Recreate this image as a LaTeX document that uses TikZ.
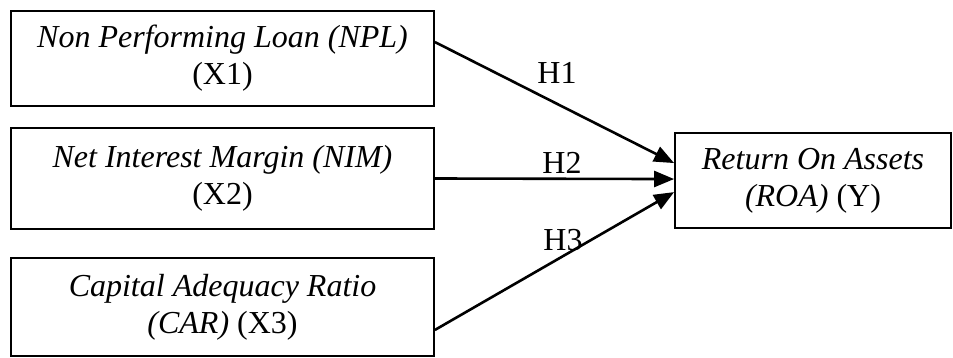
\documentclass[tikz,border=0pt]{standalone}
\usepackage{fontspec}
\setmainfont{Liberation Serif}
\usetikzlibrary{arrows.meta,calc}
\begin{document}
\begin{tikzpicture}[x=1pt,y=-1pt,
  box/.style={draw=black,line width=1.8pt,rectangle,inner sep=0pt,align=center,
    font=\fontsize{32}{37}\selectfont},
  lbl/.style={font=\fontsize{32}{37}\selectfont,inner sep=0pt},
  conn/.style={line width=2.6pt,-{Triangle[length=20pt,width=16pt]}}]
\useasboundingbox (0,0) rectangle (953,358);
\node[box,minimum width=423pt,minimum height=95pt] (b1) at (222.5,58.5)
  {\textit{Non Performing Loan (NPL)}\\(X1)};
\node[box,minimum width=423pt,minimum height=101pt] (b2) at (222.5,178.5)
  {\textit{Net Interest Margin (NIM)}\\(X2)};
\node[box,minimum width=423pt,minimum height=98pt] (b3) at (222.5,307)
  {\textit{Capital Adequacy Ratio}\\\textit{(CAR)} (X3)};
\node[box,minimum width=276pt,minimum height=95pt] (y) at (813,180.5)
  {\textit{Return On Assets}\\\textit{(ROA)} (Y)};
\coordinate (s1) at ($(b1.north east)!0.33!(b1.south east)$);
\coordinate (s3) at ($(b3.north east)!0.73!(b3.south east)$);
\coordinate (e1) at ($(y.north west)!0.32!(y.south west)$);
\coordinate (e2) at ($(y.north west)!0.485!(y.south west)$);
\coordinate (e3) at ($(y.north west)!0.62!(y.south west)$);
\draw[conn] (s1) -- (e1);
\draw[conn] (b2.east) -- (e2);
\draw[conn] (s3) -- (e3);
\node[lbl] (h1) at (557,73) {H1};
\node[lbl] (h2) at (562,163) {H2};
\node[lbl] (h3) at (563,240) {H3};
\end{tikzpicture}
\end{document}
